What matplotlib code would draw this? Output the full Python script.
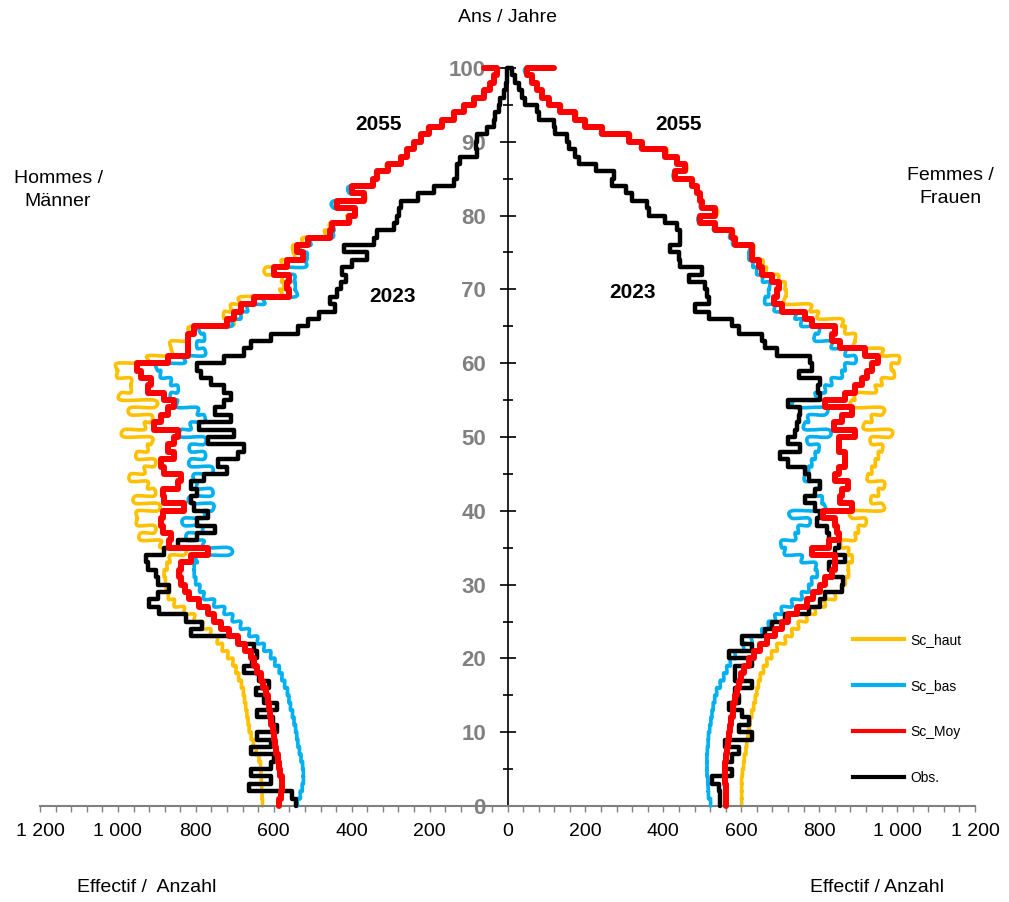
import numpy as np
import matplotlib
matplotlib.use("Agg")
import matplotlib.pyplot as plt
from matplotlib.ticker import MultipleLocator, FuncFormatter
from matplotlib.lines import Line2D
from matplotlib.path import Path
from matplotlib.patches import PathPatch

plt.rcParams['font.family'] = ['Liberation Sans', 'DejaVu Sans']

ages = np.arange(0, 101)

# Hommes / Männer (ages 0..100)
hom_haut = [629, 630, 631, 632, 633, 634, 638, 645, 652, 658,
            663, 666, 669, 672, 675, 678, 683, 690, 697, 705,
            718, 732, 745, 762, 783, 804, 830, 855, 870, 876,
            878, 881, 874, 866, 830, 890, 941, 907, 950, 950,
            898, 955, 907, 924, 967, 932, 907, 950, 924, 915,
            984, 932, 915, 967, 907, 992, 967, 967, 1001, 1001,
            924, 864, 864, 821, 813, 710, 727, 710, 685, 585,
            575, 580, 620, 580, 548, 550, 525, 470, 455, 412,
            395, 440, 370, 402, 346, 337, 310, 276, 259, 242,
            225, 204, 170, 140, 114, 88, 62, 45, 36, 27, 60]
hom_bas = [539, 532, 527, 524, 524, 526, 530, 534, 538, 541,
           544, 548, 552, 557, 561, 565, 572, 579, 586, 597,
           608, 625, 642, 663, 685, 706, 727, 753, 779, 790,
           800, 804, 804, 796, 715, 780, 821, 787, 830, 779,
           758, 813, 761, 796, 804, 761, 813, 779, 813, 779,
           838, 813, 779, 796, 847, 864, 847, 864, 890, 898,
           830, 779, 796, 779, 787, 710, 685, 667, 624, 545,
           545, 548, 590, 520, 515, 530, 505, 450, 445, 405,
           395, 445, 375, 405, 348, 337, 309, 275, 258, 241,
           224, 203, 169, 139, 113, 87, 61, 44, 35, 26, 60]
hom_moy = [586, 582, 578, 580, 583, 586, 590, 593, 597, 600,
           603, 606, 609, 612, 616, 621, 627, 634, 642, 650,
           659, 675, 693, 715, 736, 753, 770, 793, 817, 828,
           838, 843, 838, 812, 770, 870, 864, 885, 890, 885,
           830, 881, 885, 847, 838, 881, 890, 855, 872, 855,
           847, 907, 890, 872, 855, 881, 924, 915, 941, 950,
           872, 821, 821, 821, 804, 719, 701, 685, 650, 560,
           565, 560, 600, 565, 525, 540, 513, 455, 450, 407,
           392, 437, 368, 400, 344, 335, 308, 274, 257, 240,
           223, 202, 168, 138, 112, 86, 61, 44, 35, 26, 60]
hom_obs = [543, 552, 663, 608, 659, 608, 599, 659, 608, 642,
           591, 603, 642, 591, 625, 646, 612, 638, 676, 655,
           642, 650, 693, 812, 783, 826, 894, 920, 898, 868,
           898, 903, 924, 928, 881, 847, 796, 752, 796, 770,
           804, 813, 796, 813, 779, 719, 744, 693, 676, 770,
           701, 791, 710, 752, 727, 710, 727, 761, 787, 796,
           727, 676, 659, 607, 539, 513, 484, 442, 455, 437,
           428, 415, 424, 398, 360, 420, 342, 335, 292, 283,
           279, 274, 231, 188, 137, 129, 129, 121, 78, 82,
           78, 52, 35, 31, 22, 18, 9, 5, 1, 1, 0]

# Femmes / Frauen (ages 0..100)
fem_haut = [601, 601, 601, 601, 603, 606, 608, 612, 614, 617,
            620, 623, 627, 632, 636, 640, 644, 649, 657, 666,
            678, 692, 713, 730, 747, 768, 790, 815, 841, 858,
            867, 875, 875, 884, 875, 858, 892, 901, 918, 884,
            961, 935, 952, 965, 926, 935, 944, 952, 961, 935,
            982, 918, 935, 961, 884, 892, 944, 961, 991, 986,
            1003, 961, 892, 892, 867, 858, 798, 777, 713, 715,
            712, 695, 665, 655, 632, 630, 588, 578, 535, 497,
            535, 501, 497, 488, 475, 433, 458, 437, 407, 347,
            313, 245, 202, 176, 138, 108, 90, 77, 64, 51, 120]
fem_bas = [521, 516, 515, 514, 512, 512, 512, 513, 515, 516,
           519, 522, 525, 528, 532, 537, 546, 555, 563, 572,
           585, 606, 627, 653, 670, 687, 704, 730, 755, 773,
           781, 794, 790, 755, 713, 704, 738, 747, 773, 730,
           811, 807, 790, 798, 764, 773, 781, 790, 798, 773,
           824, 764, 773, 815, 738, 790, 815, 832, 858, 867,
           892, 867, 832, 790, 798, 755, 738, 687, 662, 670,
           672, 655, 640, 630, 620, 620, 580, 570, 530, 493,
           531, 497, 493, 484, 471, 429, 454, 433, 403, 344,
           310, 242, 199, 173, 135, 105, 88, 75, 62, 49, 118]
fem_moy = [562, 561, 561, 559, 559, 559, 561, 563, 566, 569,
           572, 574, 578, 580, 585, 589, 593, 600, 606, 619,
           632, 649, 666, 687, 704, 721, 742, 768, 785, 803,
           815, 832, 841, 841, 781, 824, 850, 846, 841, 811,
           884, 854, 858, 875, 841, 850, 867, 867, 850, 850,
           892, 837, 858, 884, 815, 867, 892, 909, 922, 935,
           952, 918, 854, 832, 841, 781, 764, 704, 683, 692,
           696, 678, 653, 645, 627, 627, 585, 576, 533, 495,
           533, 499, 495, 486, 473, 431, 456, 435, 405, 345,
           311, 243, 200, 174, 136, 106, 89, 76, 63, 50, 119]
fem_obs = [546, 546, 542, 525, 576, 559, 576, 593, 559, 627,
           593, 619, 602, 568, 593, 585, 627, 585, 585, 627,
           568, 627, 602, 661, 678, 713, 773, 803, 815, 858,
           862, 832, 824, 867, 841, 850, 824, 820, 794, 803,
           790, 764, 790, 803, 773, 764, 721, 700, 751, 721,
           738, 743, 747, 751, 721, 803, 798, 803, 747, 781,
           777, 691, 662, 653, 593, 576, 516, 482, 516, 512,
           508, 465, 499, 443, 439, 418, 443, 443, 435, 405,
           362, 358, 320, 303, 268, 273, 226, 183, 174, 157,
           153, 123, 119, 80, 76, 46, 38, 29, 20, 12, 0]

labels = ["Sc_haut", "Sc_bas", "Sc_Moy", "Obs."]
colors = ["#FFC000", "#00B0F0", "#FF0000", "#000000"]
widths = [2.6, 2.6, 4.3, 3.2]
smooth = [True, True, False, False]
men = [hom_haut, hom_bas, hom_moy, hom_obs]
women = [fem_haut, fem_bas, fem_moy, fem_obs]


def steps(values):
    v = np.asarray(values, dtype=float)
    return np.repeat(v, 2)[:-1], np.repeat(ages, 2)[1:]


def smooth_path(xs, ys):
    # Excel-like smoothed line through the step points
    pts = np.column_stack([xs, ys])
    n = len(pts)
    verts = [pts[0]]
    codes = [Path.MOVETO]
    for i in range(n - 1):
        p_prev = pts[max(i - 1, 0)]
        p0 = pts[i]
        p1 = pts[i + 1]
        p_next = pts[min(i + 2, n - 1)]
        verts += [p0 + (p1 - p_prev) / 6, p1 - (p_next - p0) / 6, p1]
        codes += [Path.CURVE4] * 3
    return Path(verts, codes)


fig = plt.figure(figsize=(10.09, 9.02), dpi=100)
ax = fig.add_axes([40 / 1009, 1 - 806 / 902, 935 / 1009, 738 / 902])

zorders = [2, 3, 5, 4]
for i in range(4):
    for data, sign in ((men[i], -1), (women[i], 1)):
        xs, ys = steps(data)
        if smooth[i]:
            patch = PathPatch(smooth_path(sign * xs, ys), fill=False, edgecolor=colors[i],
                              lw=widths[i], joinstyle='round', capstyle='round',
                              zorder=zorders[i], clip_on=False)
            ax.add_patch(patch)
        else:
            ax.plot(sign * xs, ys, color=colors[i], lw=widths[i],
                    solid_joinstyle='round', solid_capstyle='round',
                    zorder=zorders[i], clip_on=False)

ax.set_xlim(-1200, 1200)
ax.set_ylim(0, 100)

ax.spines['top'].set_visible(False)
ax.spines['right'].set_visible(False)
ax.spines['left'].set_position(('data', 0))
ax.spines['left'].set_linewidth(1.2)
ax.spines['bottom'].set_color('#808080')
ax.spines['bottom'].set_linewidth(1.5)
ax.spines['left'].set_zorder(1)

ax.xaxis.set_major_locator(MultipleLocator(200))
ax.xaxis.set_minor_locator(MultipleLocator(40))
ax.xaxis.set_major_formatter(FuncFormatter(lambda v, p: f"{abs(int(round(v))):,}".replace(",", " ")))
ax.tick_params(axis='x', which='both', direction='out', length=4, width=1,
               color='#808080', labelsize=14, pad=8)

ax.yaxis.set_major_locator(MultipleLocator(10))
ax.yaxis.set_minor_locator(MultipleLocator(5))
ax.tick_params(axis='y', which='major', direction='inout', length=11, width=1.2,
               labelsize=16, labelcolor='#808080', pad=10)
ax.tick_params(axis='y', which='minor', direction='inout', length=7, width=1.2)
for t in ax.get_yticklabels():
    t.set_fontweight('bold')

fig.text(507 / 1009, 1 - 18 / 902, "Ans / Jahre", ha='center', va='center', fontsize=14)
fig.text(58 / 1009, 1 - 190 / 902, "Hommes /\nMänner", ha='center', va='center', fontsize=14, linespacing=1.4)
fig.text(950 / 1009, 1 - 187 / 902, "Femmes /\nFrauen", ha='center', va='center', fontsize=14, linespacing=1.4)
fig.text(147 / 1009, 1 - 888 / 902, "Effectif /  Anzahl", ha='center', va='center', fontsize=14)
fig.text(877 / 1009, 1 - 887 / 902, "Effectif / Anzahl", ha='center', va='center', fontsize=14)
fig.text(378 / 1009, 1 - 124 / 902, "2055", ha='center', va='center', fontsize=15, fontweight='bold')
fig.text(678 / 1009, 1 - 124 / 902, "2055", ha='center', va='center', fontsize=15, fontweight='bold')
fig.text(392 / 1009, 1 - 296 / 902, "2023", ha='center', va='center', fontsize=15, fontweight='bold')
fig.text(632 / 1009, 1 - 293 / 902, "2023", ha='center', va='center', fontsize=15, fontweight='bold')

handles = [Line2D([0], [0], color=c, lw=3) for c in colors]
fig.legend(handles, labels, loc='center left', bbox_to_anchor=(853 / 1009, 1 - 709 / 902),
           frameon=False, fontsize=10, handlelength=3.7, handletextpad=0.45,
           labelspacing=2.3, borderpad=0, borderaxespad=0)

fig.savefig("out.png", dpi=100)
